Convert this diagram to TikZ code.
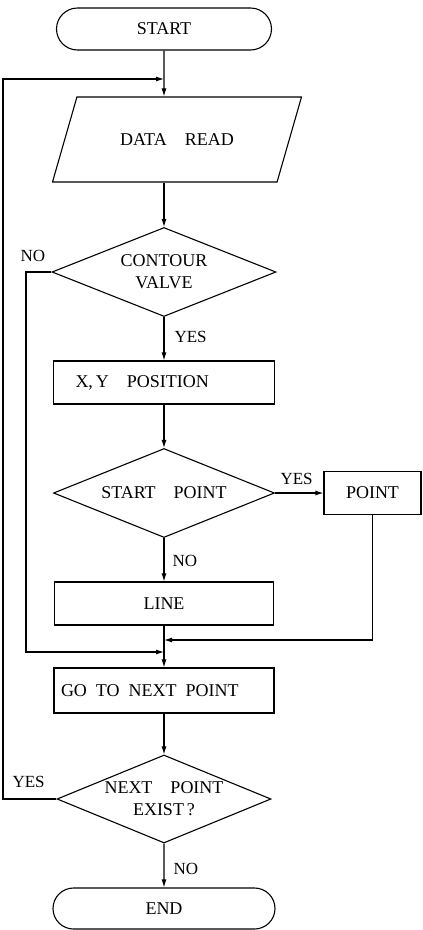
\documentclass[tikz,border=0pt]{standalone}
\usepackage{fontspec}
\setmainfont{Liberation Serif}
\usetikzlibrary{shapes.geometric,shapes.misc,arrows.meta}

\begin{document}
\begin{tikzpicture}[x=1pt,y=1pt,yscale=-1,xscale=1,
		line width=1.1pt,
		every node/.style={font=\fontsize{17}{21}\selectfont},
		flowbox/.style={draw, inner sep=0pt, align=center, font=\fontsize{18}{22}\selectfont},
		terminal/.style={flowbox, rounded rectangle, minimum width=#1, minimum height=42},
		process/.style={flowbox, rectangle, minimum width=#1, minimum height=43},
		decision/.style={flowbox, diamond, aspect=2.4, minimum width=#1, minimum height=89},
		inputbox/.style={flowbox, trapezium, trapezium left angle=73, trapezium right angle=107,
			inner ysep=34, trapezium stretches body=true, minimum width=249, minimum height=85},
		answer/.style={anchor=west, inner sep=0pt},
		arr/.style={-{Latex[length=8pt,width=5pt]}}]
		\useasboundingbox (0,0) rectangle (423,930);
		
		%Shape: Terminal [id:start] 
		\node [terminal=215] (start) at (164,29) {START};
		%Shape: Parallelogram [id:read] 
		\node [inputbox] (read) at (177,139.5) {DATA\quad READ};
		%Shape: Diamond [id:contour] 
		\node [decision=224] (contour) at (164,272) {CONTOUR\\VALVE};
		%Shape: Rectangle [id:pos] 
		\node [process=221, text width=177, inner xsep=22, align=left] (pos) at (164,382.5) {X,\,Y\quad POSITION};
		%Shape: Diamond [id:spoint] 
		\node [decision=221] (spoint) at (164,493) {START\quad POINT};
		%Shape: Rectangle [id:point] 
		\node [process=97] (point) at (372.5,493) {POINT};
		%Shape: Rectangle [id:line] 
		\node [process=219] (line) at (164,603.5) {LINE};
		%Shape: Rectangle [id:goto] 
		\node [process=220, minimum height=45, text width=206, inner xsep=7, align=left] (goto) at (164,690.5) {GO\enspace TO\enspace NEXT\enspace POINT};
		%Shape: Diamond [id:exist] 
		\node [decision=214, minimum height=88] (exist) at (164,799) {NEXT\quad POINT\\EXIST\,?};
		%Shape: Terminal [id:end] 
		\node [terminal=222, minimum height=41] (end) at (164,908.5) {END};
		
		%Junctions
		\coordinate (join1) at (164,79);
		\coordinate (join2) at (164,640);
		\coordinate (join3) at (164,652);
		\coordinate (backL) at (3,79);
		\coordinate (skipL) at (26,652);
		
		%Straight Lines 
		\draw [arr] (start) -- (start |- read.north);
		\draw [arr] (read.south -| contour) -- (contour);
		\draw [arr] (contour) -- (pos);
		\draw [arr] (pos) -- (spoint);
		\draw [arr] (spoint) -- (point);
		\draw [arr] (spoint) -- (line);
		\draw [arr] (line) -- (goto);
		\draw [arr] (goto) -- (exist);
		\draw [arr] (exist) -- (end);
		%Loop lines
		\draw [arr] (point) |- (join2);
		\draw [arr] (contour.west) -| (skipL) -- (join3);
		\draw [arr] (exist.west) -| (backL) -- (join1);
		
		% Text Node
		\node [answer] (no1) at (20,256) {NO};
		% Text Node
		\node [answer] (yes1) at (174,337) {YES};
		% Text Node
		\node [answer] (yes2) at (280,479) {YES};
		% Text Node
		\node [answer] (no2) at (172,561) {NO};
		% Text Node
		\node [answer] (yes3) at (12,782) {YES};
		% Text Node
		\node [answer] (no3) at (173,869) {NO};
		
	\end{tikzpicture}
\end{document}
